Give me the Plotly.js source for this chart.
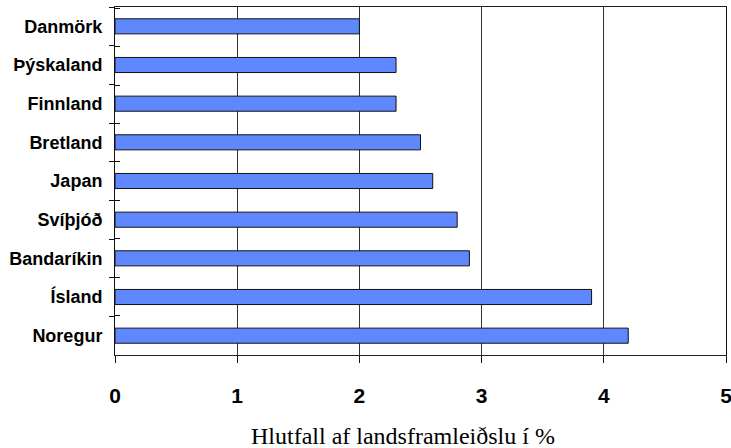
<!DOCTYPE html>
<html>
<head>
<meta charset="utf-8">
<script src="https://cdn.plot.ly/plotly-3.0.1.min.js"></script>
<style>
  html, body { margin: 0; padding: 0; background: #fff; }
  #chart { width: 731px; height: 448px; }
</style>
</head>
<body>
<div id="chart"></div>
<script>
// Countries, top to bottom
const countries = ["Danmörk", "Þýskaland", "Finnland", "Bretland", "Japan",
                   "Svíþjóð", "Bandaríkin", "Ísland", "Noregur"];
// Share of GDP, %
const shares = [2.0, 2.3, 2.3, 2.5, 2.6, 2.8, 2.9, 3.9, 4.2];
const xTicks = [0, 1, 2, 3, 4, 5];
const xTitle = "Hlutfall af landsframleiðslu í %";

const bars = {
  type: "bar",
  orientation: "h",
  x: shares,
  y: countries,
  width: 0.39,
  marker: { color: "#5f88ff", line: { color: "#111", width: 1 } },
  hoverinfo: "x+y",
  showlegend: false
};

// Invisible companion trace so the inner half of the category ticks can be drawn
const tickHelper = {
  type: "scatter",
  mode: "markers",
  x: shares,
  y: countries,
  yaxis: "y2",
  marker: { opacity: 0, size: 1 },
  hoverinfo: "skip",
  showlegend: false
};

const layout = {
  width: 731,
  height: 448,
  margin: { l: 115, r: 5, t: 7, b: 93 },
  paper_bgcolor: "#fff",
  plot_bgcolor: "#fff",
  showlegend: false,
  xaxis: {
    range: [0, 5],
    tickvals: xTicks,
    ticktext: xTicks.map(String),
    ticks: "outside",
    ticklen: 7,
    tickcolor: "#111",
    showgrid: true,
    gridcolor: "#333",
    gridwidth: 1,
    zeroline: false,
    showline: true,
    linecolor: "#222",
    linewidth: 1,
    mirror: true,
    ticklabeloverflow: "allow",
    tickfont: { family: "Liberation Sans, Arial, sans-serif", size: 21, color: "#000", weight: "bold" },
    ticklabelstandoff: 15,
    fixedrange: true
  },
  yaxis: {
    type: "category",
    categoryorder: "array",
    categoryarray: countries,
    autorange: "reversed",
    tickson: "boundaries",
    ticks: "outside",
    ticklen: 5,
    tickcolor: "#111",
    showgrid: false,
    showline: true,
    linecolor: "#111",
    linewidth: 1,
    mirror: true,
    tickfont: { family: "Liberation Sans, Arial, sans-serif", size: 18, color: "#000", weight: "bold" },
    ticklabelstandoff: 8,
    fixedrange: true
  },
  yaxis2: {
    type: "category",
    overlaying: "y",
    categoryorder: "array",
    categoryarray: countries,
    autorange: "reversed",
    side: "left",
    tickson: "boundaries",
    ticks: "inside",
    ticklen: 5,
    tickcolor: "#111",
    showticklabels: false,
    showgrid: false,
    showline: false,
    zeroline: false,
    fixedrange: true
  },
  bargap: 0.61,
  annotations: [{
    text: xTitle,
    xref: "paper", yref: "paper",
    x: 0.471, y: -0.233,
    xanchor: "center", yanchor: "middle",
    showarrow: false,
    font: { family: "Liberation Serif, Times New Roman, serif", size: 24, color: "#000" }
  }]
};

Plotly.newPlot("chart", [bars, tickHelper], layout, { displayModeBar: false, staticPlot: true });
</script>
</body>
</html>
